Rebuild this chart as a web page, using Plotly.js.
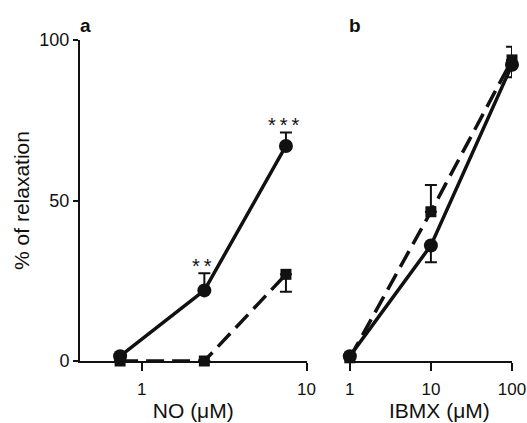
<!DOCTYPE html>
<html><head><meta charset="utf-8">
<script src="https://cdn.plot.ly/plotly-3.0.1.min.js"></script>
<style>html,body{margin:0;padding:0;background:#fff}</style>
</head><body><div id="chart" style="width:527px;height:423px"></div>
<script>
// Panel a: NO concentration (µM)
const noConc = [0.74, 2.4, 7.5];
const noCircle = [1.5, 22, 67];
const noCirclePlus = [0, 5.3, 4.2];
const noSquare = [0, 0, 27];
const noSquareMinus = [0, 0, 5.4];
// Panel b: IBMX concentration (µM)
const ibmxConc = [1, 10, 100];
const ibmxCircle = [1.5, 36, 92.3];
const ibmxCircleMinus = [0, 5.2, 3.9];
const ibmxSquare = [1, 46.5, 93.8];
const ibmxSquarePlus = [0, 8.3, 4.1];
// Ticks
const yTicks = [0, 50, 100];
const noTicks = [1, 10];
const ibmxTicks = [1, 10, 100];
const sigLabels = ['', '*\u2009*', '*\u2009*\u2009*'];

const K = '#111';
const FONT = 'Liberation Sans, Arial, sans-serif';
const dash = '18px,8px';

function errUp(arr){return {type:'data', symmetric:false, array:arr, arrayminus:arr.map(()=>0), color:K, thickness:2, width:6};}
function errDown(arr){return {type:'data', symmetric:false, array:arr.map(()=>0), arrayminus:arr, color:K, thickness:2, width:6};}

const traces = [
  {x:noConc, y:noSquare, xaxis:'x', yaxis:'y', mode:'lines+markers', cliponaxis:false,
   line:{color:K, width:3.5, dash:dash}, marker:{symbol:'square', size:11, color:K},
   error_y:errDown(noSquareMinus)},
  {x:noConc, y:noCircle, xaxis:'x', yaxis:'y', mode:'lines+markers', cliponaxis:false,
   line:{color:K, width:3.5}, marker:{symbol:'circle', size:14, color:K},
   error_y:errUp(noCirclePlus)},
  {x:ibmxConc, y:ibmxSquare, xaxis:'x2', yaxis:'y', mode:'lines+markers', cliponaxis:false,
   line:{color:K, width:3.5, dash:dash}, marker:{symbol:'square', size:11, color:K},
   error_y:errUp(ibmxSquarePlus)},
  {x:ibmxConc, y:ibmxCircle, xaxis:'x2', yaxis:'y', mode:'lines+markers', cliponaxis:false,
   line:{color:K, width:3.5}, marker:{symbol:'circle', size:14, color:K},
   error_y:errDown(ibmxCircleMinus)}
];

const W=527, H=423, L=80, R=14.7, T=39.5, B=62;
const pw = W-L-R, ph = H-T-B;
function px(xp){return (xp-L)/pw;}
function py(yp){return (H-B-yp)/ph;}

const annotations = [];
noConc.forEach((c,i)=>{
  if(sigLabels[i]) annotations.push({x:Math.log10(c), y:noCircle[i]+noCirclePlus[i], xref:'x', yref:'y',
    xanchor:'center', yanchor:'bottom', yshift:-6, xshift:-2,
    text:sigLabels[i], showarrow:false, font:{family:FONT, size:20, color:K}});
});
annotations.push({x:px(86), y:py(25), xref:'paper', yref:'paper', xanchor:'center', yanchor:'middle',
  text:'<b>a</b>', showarrow:false, font:{family:FONT,size:19,color:K}});
annotations.push({x:px(355), y:py(25), xref:'paper', yref:'paper', xanchor:'center', yanchor:'middle',
  text:'<b>b</b>', showarrow:false, font:{family:FONT,size:19,color:K}});
annotations.push({x:px(440), y:py(411), xref:'paper', yref:'paper', xanchor:'center', yanchor:'middle',
  text:'IBMX (μM)', showarrow:false, font:{family:FONT,size:21,color:K}});

const axBase = {showline:true, linecolor:K, linewidth:2, ticks:'outside', tickcolor:K, tickwidth:2,
  showgrid:false, zeroline:false, tickfont:{family:FONT,size:17,color:K}, ticklabeloverflow:'allow'};

const layout = {
  width:W, height:H, margin:{l:L, r:R, t:T, b:B}, showlegend:false,
  paper_bgcolor:'#fff', plot_bgcolor:'#fff', font:{family:FONT,color:K},
  xaxis:Object.assign({}, axBase, {type:'log', domain:[0, px(306.7)], range:[-0.374, 1], anchor:'y',
    tickvals:noTicks, ticktext:noTicks.map(String), ticklen:8, ticklabelstandoff:4,
    title:{text:'NO (μM)', font:{family:FONT,size:21,color:K}, standoff:5}}),
  xaxis2:Object.assign({}, axBase, {type:'log', domain:[px(350), 1], range:[0, 2], anchor:'y',
    tickvals:ibmxTicks, ticktext:ibmxTicks.map(String), ticklen:8, ticklabelstandoff:4}),
  yaxis:Object.assign({}, axBase, {range:[0,100], anchor:'x', tickvals:yTicks, ticktext:yTicks.map(String), ticklen:5,
    tickfont:{family:FONT,size:18,color:K},
    title:{text:'% of relaxation', font:{family:FONT,size:21,color:K}, standoff:4}}),
  annotations:annotations
};

Plotly.newPlot('chart', traces, layout, {displayModeBar:false, staticPlot:true});
</script></body></html>
